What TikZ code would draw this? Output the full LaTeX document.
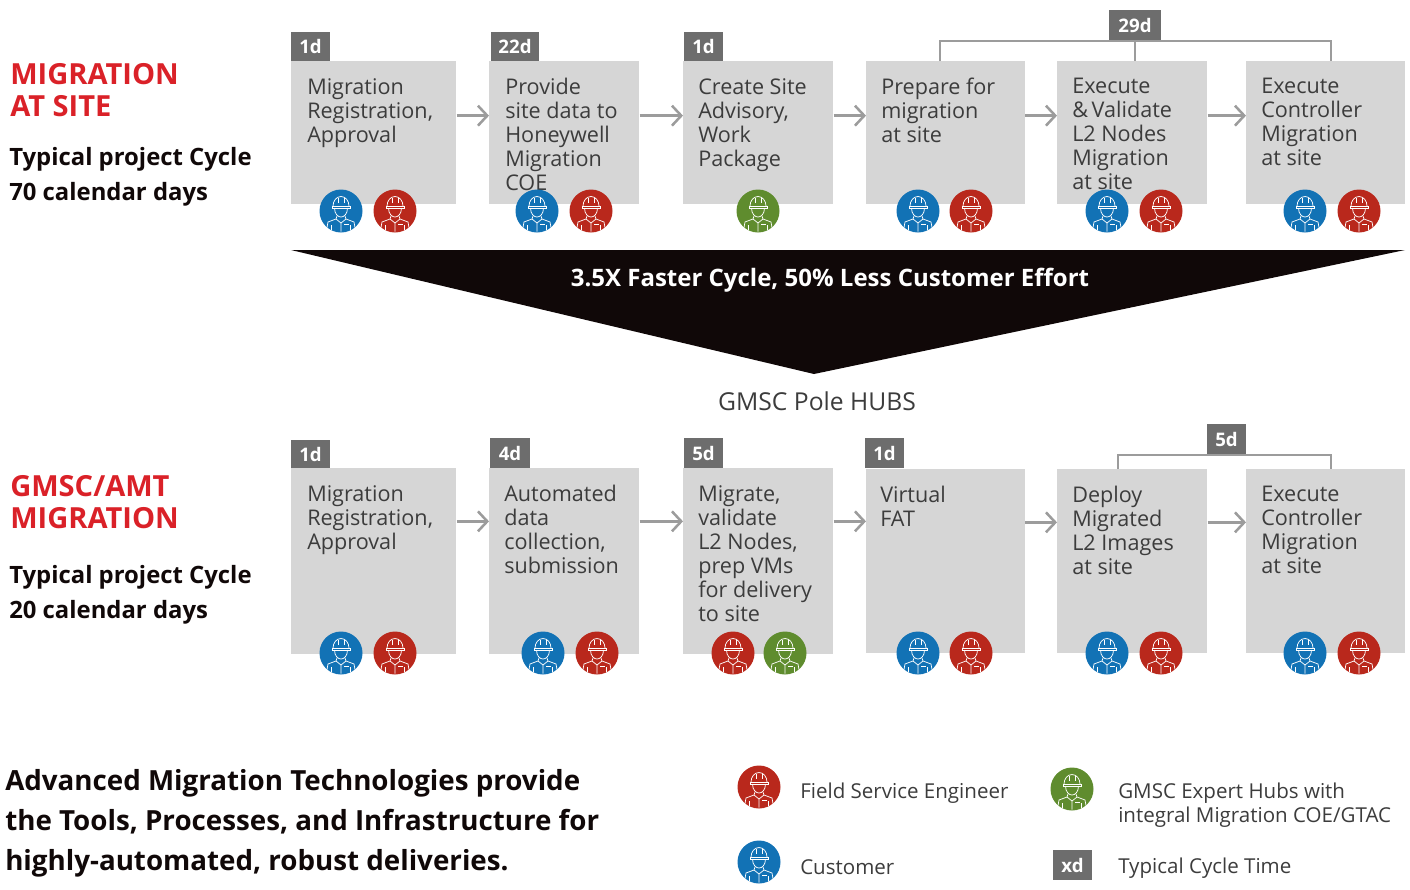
\documentclass[tikz,border=0pt]{standalone}
\usepackage{fontspec}
\usepackage{xcolor}
\setmainfont{Open Sans}
\usetikzlibrary{arrows.meta}
\definecolor{boxgray}{HTML}{D6D6D6}
\definecolor{badgegray}{HTML}{6D6D6D}
\definecolor{linegray}{HTML}{9C9C9C}
\definecolor{textgray}{HTML}{3C3C3C}
\definecolor{headred}{HTML}{DA2128}
\definecolor{fsered}{HTML}{B9281C}
\definecolor{custblue}{HTML}{1272B5}
\definecolor{hubgreen}{HTML}{5F8C2E}
\definecolor{bandblack}{HTML}{100808}

\begin{document}
\begin{tikzpicture}[x=0.75pt,y=-0.75pt,
	stepbox/.style={fill=boxgray,anchor=north west,inner sep=0pt},
	steptext/.style={anchor=north west,align=left,inner sep=0pt,text=textgray,font=\fontsize{16.2}{18}\selectfont,execute at begin node=\strut},
	badge/.style={fill=badgegray,text=white,inner sep=0pt,font=\fontsize{14}{16}\selectfont\bfseries},
	flow/.style={draw=linegray,line width=1.9pt,-{Straight Barb[length=7pt,width=15pt,line width=1.9pt]}},
	span/.style={draw=linegray,line width=2.1pt},
	heading/.style={anchor=north west,align=left,inner sep=0pt,text=headred,font=\fontsize{21.8}{24}\selectfont\bfseries},
	cycle/.style={anchor=north west,align=left,inner sep=0pt,text=bandblack,font=\fontsize{17.9}{26.25}\selectfont\bfseries},
	legend/.style={anchor=west,align=left,inner sep=0pt,text=textgray,font=\fontsize{15.4}{18}\selectfont},
	worker/.pic={
		\fill[#1] (0,0) circle (21.5);
		\begin{scope}[draw=white,line width=0.55pt]
			\draw (-8,-5) arc (180:360:8 and 9.5);
			\draw (-3,-13.5) -- (-3,-8) (3,-13.5) -- (3,-8);
			\draw (-9,-5) -- (9,-5) -- (9,-3) -- (-9,-3) -- cycle;
			\draw (-6.5,-3) .. controls (-6.5,3) and (-3,6) .. (0,6) .. controls (3,6) and (6.5,3) .. (6.5,-3);
			\draw (-4,5) -- (-5,8) -- (-13,11) -- (-14,16.5);
			\draw (4,5) -- (5,8) -- (13,11) -- (14,16.5);
			\draw (-5,8) -- (0,12) -- (5,8) (0,12) -- (0,20.5);
			\draw (-9.5,14) -- (-9.5,19) (9.5,14) -- (9.5,19) (3,13) -- (8,13);
		\end{scope}
	}]
	\useasboundingbox (0,0) rectangle (1410,889);

	% upper row
	\node[stepbox,minimum width=123.75pt,minimum height=107pt] (a1) at (291,61) {};
	\node[stepbox,minimum width=112.5pt,minimum height=107pt] (a2) at (489,61) {};
	\node[stepbox,minimum width=112.5pt,minimum height=107pt] (a3) at (683,61) {};
	\node[stepbox,minimum width=119pt,minimum height=107pt] (a4) at (866,61) {};
	\node[stepbox,minimum width=112.5pt,minimum height=107pt] (a5) at (1057,61) {};
	\node[stepbox,minimum width=119pt,minimum height=107pt] (a6) at (1246,61) {};
	\node[steptext] (ta1) at (307,78) {Migration\\Registration,\\Approval};
	\node[steptext] (ta2) at (505,78) {Provide\\site data to\\Honeywell\\Migration\\COE};
	\node[steptext] (ta3) at (698,78) {Create Site\\Advisory,\\Work\\Package};
	\node[steptext] (ta4) at (881,78) {Prepare for\\migration\\at site};
	\node[steptext] (ta5) at (1072,78) {Execute\\\&\,Validate\\L2 Nodes\\Migration\\at site};
	\node[steptext] (ta6) at (1261,78) {Execute\\Controller\\Migration\\at site};
	\foreach \from/\to in {a1/a2,a2/a3,a3/a4,a4/a5,a5/a6}
		\draw[flow] ([yshift=-41pt]\from.north east) -- ([yshift=-41pt]\from.north east -| \to.west);

	\node[badge,minimum width=29.25pt,minimum height=21.75pt] (d1) at (310.5,46) {1d};
	\node[badge,minimum width=36pt,minimum height=21.75pt] (d2) at (515,46) {22d};
	\node[badge,minimum width=29.25pt,minimum height=21.75pt] (d3) at (703.5,46) {1d};
	\node[badge,minimum width=39pt,minimum height=22.5pt] (d4) at (1135,25) {29d};
	\draw[span] (a4.north west -| 940,0) -- (940,41) -- (1331,41) -- (a6.north west -| 1331,0);
	\draw[span] (d4.south) -- (d4.south |- a5.north);

	\pic at (341,211) {worker=custblue};
	\pic at (395,211) {worker=fsered};
	\pic at (537,211) {worker=custblue};
	\pic at (591,211) {worker=fsered};
	\pic at (758,211) {worker=hubgreen};
	\pic at (918,211) {worker=custblue};
	\pic at (971,211) {worker=fsered};
	\pic at (1107,211) {worker=custblue};
	\pic at (1161,211) {worker=fsered};
	\pic at (1305,211) {worker=custblue};
	\pic at (1359,211) {worker=fsered};

	% band
	\fill[bandblack] (291,250) -- (1405,250) -- (814,374) -- cycle;
	\node[inner sep=0pt,text=white,font=\fontsize{18}{20}\selectfont\bfseries] (band) at (830,280) {3.5X Faster Cycle, 50\% Less Customer Effort};
	\node[inner sep=0pt,text=textgray,font=\fontsize{18.5}{20}\selectfont] (hubs) at (817,401) {GMSC Pole HUBS};

	% lower row
	\node[stepbox,minimum width=123.75pt,minimum height=139pt] (b1) at (291,468) {};
	\node[stepbox,minimum width=112.5pt,minimum height=139pt] (b2) at (489,468) {};
	\node[stepbox,minimum width=112.5pt,minimum height=139pt] (b3) at (683,468) {};
	\node[stepbox,minimum width=119pt,minimum height=138pt] (b4) at (866,469) {};
	\node[stepbox,minimum width=112.5pt,minimum height=138pt] (b5) at (1057,469) {};
	\node[stepbox,minimum width=119pt,minimum height=138pt] (b6) at (1246,469) {};
	\node[steptext] (tb1) at (307,485) {Migration\\Registration,\\Approval};
	\node[steptext] (tb2) at (504,485) {Automated\\data\\collection,\\submission};
	\node[steptext] (tb3) at (698,485) {Migrate,\\validate\\L2 Nodes,\\prep VMs\\for delivery\\to site};
	\node[steptext] (tb4) at (880,486) {Virtual\\FAT};
	\node[steptext] (tb5) at (1072,486) {Deploy\\Migrated\\L2 Images\\at site};
	\node[steptext] (tb6) at (1261,486) {Execute\\Controller\\Migration\\at site};
	\foreach \from/\to in {b1/b2,b2/b3,b3/b4,b4/b5,b5/b6}
		\draw[flow] ([yshift=-40pt]\from.north east) -- ([yshift=-40pt]\from.north east -| \to.west);

	\node[badge,minimum width=29.25pt,minimum height=21pt] (e1) at (310.5,454) {1d};
	\node[badge,minimum width=30pt,minimum height=22.5pt] (e2) at (510,453) {4d};
	\node[badge,minimum width=29.25pt,minimum height=22.5pt] (e3) at (703.5,453) {5d};
	\node[badge,minimum width=29.25pt,minimum height=22.5pt] (e4) at (884.5,453) {1d};
	\node[badge,minimum width=29.25pt,minimum height=22.5pt] (e5) at (1226.5,439) {5d};
	\draw[span] (1118,469) -- (1118,455) -- (1331,455) -- (1331,469);

	\pic at (341,653) {worker=custblue};
	\pic at (395,653) {worker=fsered};
	\pic at (543,653) {worker=custblue};
	\pic at (597,653) {worker=fsered};
	\pic at (733,653) {worker=fsered};
	\pic at (785,653) {worker=hubgreen};
	\pic at (918,653) {worker=custblue};
	\pic at (971,653) {worker=fsered};
	\pic at (1107,653) {worker=custblue};
	\pic at (1161,653) {worker=fsered};
	\pic at (1305,653) {worker=custblue};
	\pic at (1359,653) {worker=fsered};

	% left column
	\node[heading] (h1) at (10,63) {MIGRATION\\AT SITE};
	\node[cycle] (c1) at (9,147) {Typical project Cycle\\70 calendar days};
	\node[heading] (h2) at (10,475) {GMSC/AMT\\MIGRATION};
	\node[cycle] (c2) at (9,565) {Typical project Cycle\\20 calendar days};
	\node[anchor=north west,align=left,inner sep=0pt,text=bandblack,font=\fontsize{20.8}{30}\selectfont\bfseries] (claim) at (5,769) {Advanced Migration Technologies provide\\the Tools, Processes, and Infrastructure for\\highly-automated, robust deliveries.};

	% legend
	\pic at (759,787) {worker=fsered};
	\pic at (759,862) {worker=custblue};
	\pic at (1072,789) {worker=hubgreen};
	\node[badge,minimum width=29.25pt,minimum height=22.5pt] (xd) at (1072.5,865) {xd};
	\node[legend] (l1) at (800,793) {Field Service Engineer};
	\node[legend] (l2) at (800,867) {Customer};
	\node[legend] (l3) at (1118,805) {GMSC Expert Hubs with\\integral Migration COE/GTAC};
	\node[legend] (l4) at (1118,868) {Typical Cycle Time};
\end{tikzpicture}
\end{document}
